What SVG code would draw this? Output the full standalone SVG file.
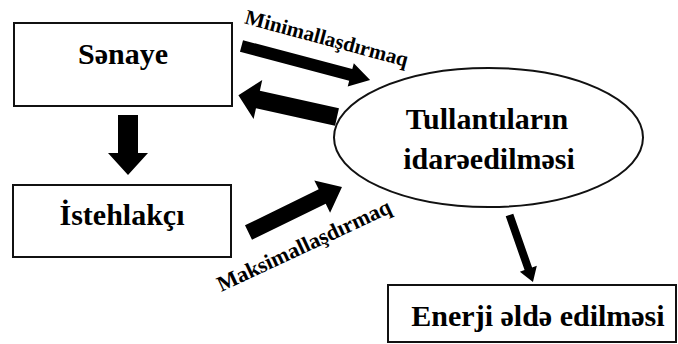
<svg xmlns="http://www.w3.org/2000/svg" width="678" height="344" viewBox="0 0 678 344">
<style>
.box{fill:#fff;stroke:#111;stroke-width:2}
.t{font-family:"Liberation Serif","Times New Roman",serif;font-weight:bold;font-size:30px;fill:#000;text-anchor:middle}
.lbl{font-family:"Liberation Serif","Times New Roman",serif;font-weight:bold;font-size:21px;fill:#000;text-anchor:middle}
.arr{fill:#000}
</style>
<rect width="678" height="344" fill="#fff"/>
<g id="senaye">
<rect class="box" x="14" y="23" width="218" height="83"/>
<text class="t" x="123" y="64">Sənaye</text>
</g>
<g id="istehlakci">
<rect class="box" x="13" y="185" width="218" height="72"/>
<text class="t" x="122" y="225">İstehlakçı</text>
</g>
<g id="tullanti">
<ellipse cx="488.5" cy="137.5" rx="154.5" ry="69.5" fill="#fff" stroke="#111" stroke-width="2"/>
<text class="t" x="487" y="129">Tullantıların</text>
<text class="t" x="489" y="169">idarəedilməsi</text>
</g>
<g id="enerji">
<rect class="box" x="388" y="285" width="288" height="57"/>
<text class="t" x="538" y="326">Enerji əldə edilməsi</text>
</g>
<g id="connectors">
<polygon class="arr" points="0,-6 113,-6 113,-12 133,0 113,12 113,6 0,6" transform="translate(241.5,46) rotate(14.8)"/>
<text class="lbl" transform="translate(325,45) rotate(15)">Minimallaşdırmaq</text>
<polygon class="arr" points="0,-9 81,-9 81,-20 101,0 81,20 81,9 0,9" transform="translate(337,117) rotate(192.5)"/>
<polygon class="arr" points="0,-8 82,-8 82,-18 104,0 82,18 82,8 0,8" transform="translate(248.5,232.5) rotate(-26)"/>
<text class="lbl" style="font-size:22px" transform="translate(307,252) rotate(-25)">Maksimallaşdırmaq</text>
<polygon class="arr" points="118,115 138,115 138,153 148,153 128,175 108,153 118,153"/>
<polygon class="arr" points="0,-4 57,-4 57,-9 71,0 57,9 57,4 0,4" transform="translate(509.5,215) rotate(70.7)"/>
</g>
</svg>
